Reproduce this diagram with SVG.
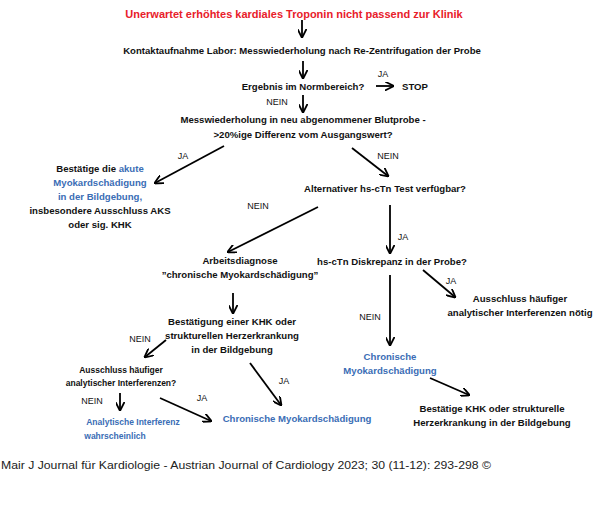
<svg xmlns="http://www.w3.org/2000/svg" width="600" height="511" viewBox="0 0 600 511">
<defs><marker id="a" viewBox="0 0 10 10" refX="9" refY="5" markerWidth="5" markerHeight="5" orient="auto"><path d="M0,0 L10,5 L0,10" fill="none" stroke="#000" stroke-width="2"/></marker></defs>
<style>
text{font-family:"Liberation Sans",Arial,sans-serif;font-size:9.6px;font-weight:bold;text-anchor:middle;fill:#111}
.r{fill:#e8202a;font-size:11px}.b{fill:#3a6db5}.l{font-weight:normal;font-size:9px}
.f{font-weight:normal;font-size:11.5px;text-anchor:start;fill:#222}
line{stroke:#000;stroke-width:1.8;marker-end:url(#a)}
</style>
<rect width="600" height="511" fill="#fff"/>
<g id="connectors">
<line x1="302" y1="20" x2="302" y2="37"/>
<line x1="303" y1="61" x2="303" y2="78"/>
<line x1="376" y1="86" x2="393" y2="86"/>
<line x1="303" y1="95" x2="303" y2="112"/>
<line x1="224" y1="146" x2="155" y2="183"/>
<line x1="352" y1="148" x2="388" y2="176"/>
<line x1="318" y1="207" x2="228" y2="252"/>
<line x1="390" y1="205" x2="390" y2="253"/>
<line x1="233" y1="293" x2="233" y2="313"/>
<line x1="166" y1="340" x2="145" y2="357"/>
<line x1="120" y1="393" x2="120" y2="410"/>
<line x1="160" y1="398" x2="211" y2="421"/>
<line x1="250" y1="363" x2="281" y2="405"/>
<line x1="390" y1="275" x2="390" y2="345"/>
<line x1="423" y1="270" x2="455" y2="297"/>
<line x1="430" y1="378" x2="469" y2="395"/>
</g>
<g id="labels">
<text class="l" x="383" y="77">JA</text>
<text class="l" x="277" y="105">NEIN</text>
<text class="l" x="183" y="159">JA</text>
<text class="l" x="388" y="159">NEIN</text>
<text class="l" x="258" y="209">NEIN</text>
<text class="l" x="403" y="240">JA</text>
<text class="l" x="370" y="320">NEIN</text>
<text class="l" x="451" y="284">JA</text>
<text class="l" x="140" y="342">NEIN</text>
<text class="l" x="92" y="404">NEIN</text>
<text class="l" x="202" y="401">JA</text>
<text class="l" x="284" y="384">JA</text>
</g>
<g id="n1"><text class="r" x="294" y="18">Unerwartet erhöhtes kardiales Troponin nicht passend zur Klinik</text></g>
<g id="n2"><text x="302" y="54">Kontaktaufnahme Labor: Messwiederholung nach Re-Zentrifugation der Probe</text></g>
<g id="n3"><text x="303" y="90">Ergebnis im Normbereich?</text></g>
<g id="n4"><text x="415" y="90">STOP</text></g>
<g id="n5"><text x="303" y="123">Messwiederholung in neu abgenommener Blutprobe -</text><text x="303" y="138">&gt;20%ige Differenz vom Ausgangswert?</text></g>
<g id="n6"><text x="100" y="172">Bestätige die <tspan class="b">akute</tspan></text><text class="b" x="100" y="186">Myokardschädigung</text><text class="b" x="100" y="200">in der Bildgebung,</text><text x="100" y="214">insbesondere Ausschluss AKS</text><text x="100" y="228">oder sig. KHK</text></g>
<g id="n7"><text x="385" y="192">Alternativer hs-cTn Test verfügbar?</text></g>
<g id="n8"><text x="240" y="264">Arbeitsdiagnose</text><text x="240" y="278">”chronische Myokardschädigung”</text></g>
<g id="n9"><text x="392" y="265">hs-cTn Diskrepanz in der Probe?</text></g>
<g id="n10"><text x="520" y="302">Ausschluss häufiger</text><text x="520" y="316">analytischer Interferenzen nötig</text></g>
<g id="n11"><text x="232" y="325">Bestätigung einer KHK oder</text><text x="232" y="339">strukturellen Herzerkrankung</text><text x="232" y="353">in der Bildgebung</text></g>
<g id="n12"><text class="b" x="390" y="360">Chronische</text><text class="b" x="390" y="374">Myokardschädigung</text></g>
<g id="n13"><text x="121" y="373" style="font-size:8.5px">Ausschluss häufiger</text><text x="121" y="386" style="font-size:8.5px">analytischer Interferenzen?</text></g>
<g id="n14"><text class="b" x="133" y="425" style="font-size:8.5px">Analytische Interferenz</text><text class="b" x="115" y="439" style="font-size:8.5px">wahrscheinlich</text></g>
<g id="n15"><text class="b" x="297" y="422">Chronische Myokardschädigung</text></g>
<g id="n16"><text x="492" y="412">Bestätige KHK oder strukturelle</text><text x="492" y="426">Herzerkrankung in der Bildgebung</text></g>
<text class="f" x="1" y="469" textLength="490" lengthAdjust="spacingAndGlyphs">Mair J Journal für Kardiologie - Austrian Journal of Cardiology 2023; 30 (11-12): 293-298 ©</text>
</svg>
